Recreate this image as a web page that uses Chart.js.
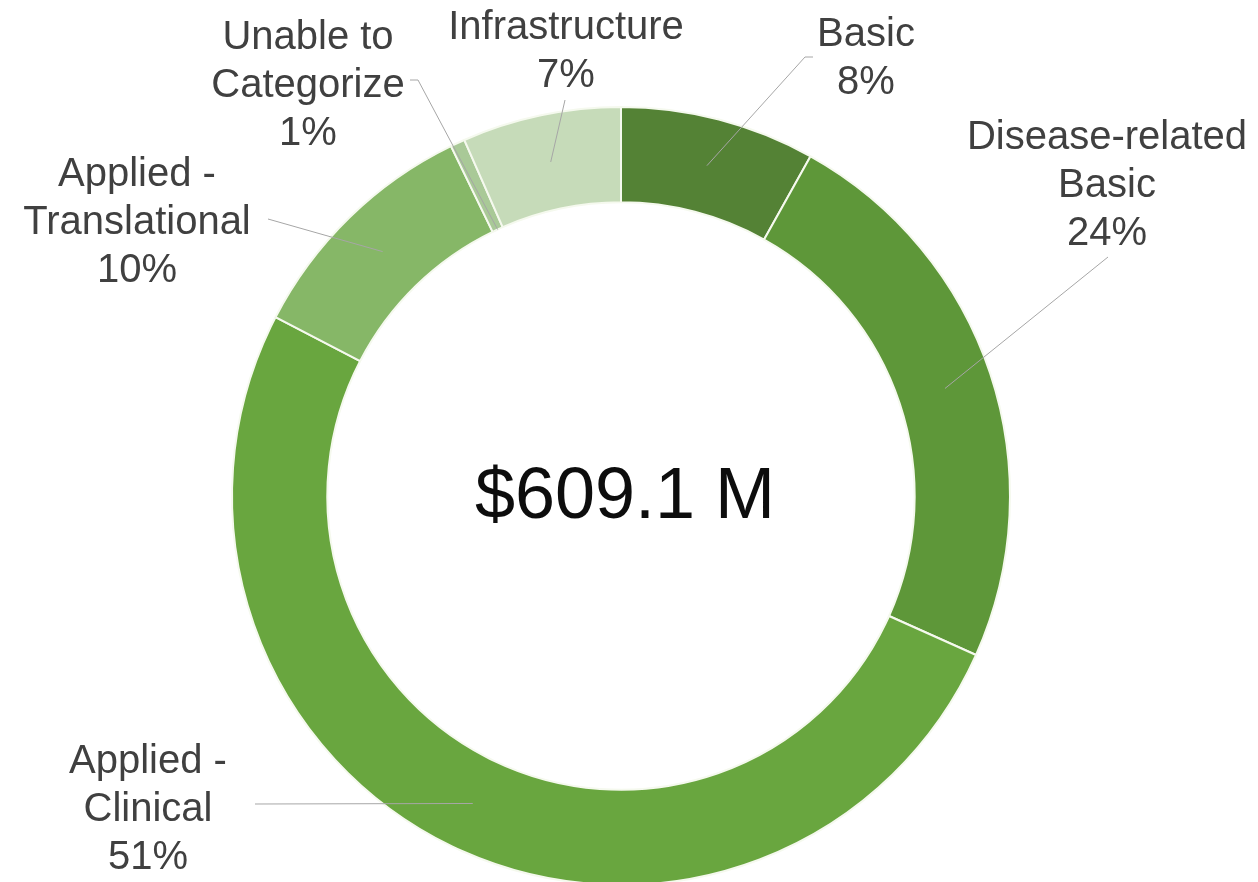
<!DOCTYPE html>
<html>
<head>
<meta charset="utf-8">
<script src="https://cdn.jsdelivr.net/npm/chart.js@4/dist/chart.umd.min.js"></script>
<style>
  html, body { margin: 0; padding: 0; background: #fff; overflow: hidden; }
  #wrap { width: 1258px; height: 882px; overflow: hidden; }
</style>
</head>
<body>
<div id="wrap"><canvas id="fundingChart" width="1258" height="890"></canvas></div>
<script>
// research category split of total funding
var categories = [
    ['Basic'],
    ['Disease-related', 'Basic'],
    ['Applied -', 'Clinical'],
    ['Applied -', 'Translational'],
    ['Unable to', 'Categorize'],
    ['Infrastructure']
];
var shares = [8.1, 23.6, 50.9, 10.2, 0.6, 6.6];
var totalLabel = '$609.1 M';
var sliceColors = ['#548235', '#5e9739', '#69a63f', '#86b767', '#a9c997', '#c6dbb9'];

// where each label sits and where its leader line bends
var labelSpots = [
    { x: 866, y: 35,  bend: [[805, 57], [813, 57]], r: 0.5 },
    { x: 1107, y: 138, bend: [[1108, 257]], r: 0.5 },
    { x: 148, y: 762, bend: [[255, 804]], r: 0.5 },
    { x: 137, y: 175, bend: [[268, 219]], r: 0.5 },
    { x: 308, y: 38,  bend: [[418, 80], [410, 80]], r: 0 },
    { x: 566, y: 28,  bend: [[565, 100]], r: 0.5 }
];

var FONT = '"Liberation Sans", Arial, Helvetica, sans-serif';

var sliceLabels = {
    id: 'sliceLabels',
    afterDatasetsDraw: function (chart) {
        var ctx = chart.ctx;
        var meta = chart.getDatasetMeta(0);
        var data = chart.data.datasets[0].data;
        var total = data.reduce(function (a, b) { return a + b; }, 0);
        ctx.save();
        meta.data.forEach(function (arc, i) {
            var spot = labelSpots[i];
            var p = arc.getProps(['x', 'y', 'startAngle', 'endAngle', 'innerRadius', 'outerRadius'], true);
            var mid = (p.startAngle + p.endAngle) / 2;
            var rad = p.innerRadius + (p.outerRadius - p.innerRadius) * spot.r;
            var ax = p.x + Math.cos(mid) * rad;
            var ay = p.y + Math.sin(mid) * rad;

            ctx.strokeStyle = '#a6a6a6';
            ctx.lineWidth = 1;
            ctx.beginPath();
            ctx.moveTo(ax, ay);
            spot.bend.forEach(function (pt) { ctx.lineTo(pt[0], pt[1]); });
            ctx.stroke();

            var lines = chart.data.labels[i].concat([Math.round(data[i] / total * 100) + '%']);
            ctx.fillStyle = '#404040';
            ctx.font = '40px ' + FONT;
            ctx.textAlign = 'center';
            ctx.textBaseline = 'middle';
            lines.forEach(function (t, k) {
                ctx.fillText(t, spot.x, spot.y + k * 48);
            });
        });

        // total in the hole
        var first = meta.data[0];
        ctx.fillStyle = '#0d0d0d';
        ctx.font = '72px ' + FONT;
        ctx.fillText(totalLabel, first.x + 4, first.y + 2);
        ctx.restore();
    }
};

var chart = new Chart(document.getElementById('fundingChart').getContext('2d'), {
    type: 'doughnut',
    data: {
        labels: categories,
        datasets: [{
            data: shares,
            backgroundColor: sliceColors,
            borderColor: '#f5f9ee',
            borderWidth: 2
        }]
    },
    options: {
        responsive: false,
        animation: false,
        devicePixelRatio: 1,
        events: [],
        cutout: '75.5%',
        layout: { padding: { top: 106, left: 231, right: 247, bottom: 4 } },
        plugins: {
            legend: { display: false },
            tooltip: { enabled: false }
        }
    },
    plugins: [sliceLabels]
});
</script>
</body>
</html>
